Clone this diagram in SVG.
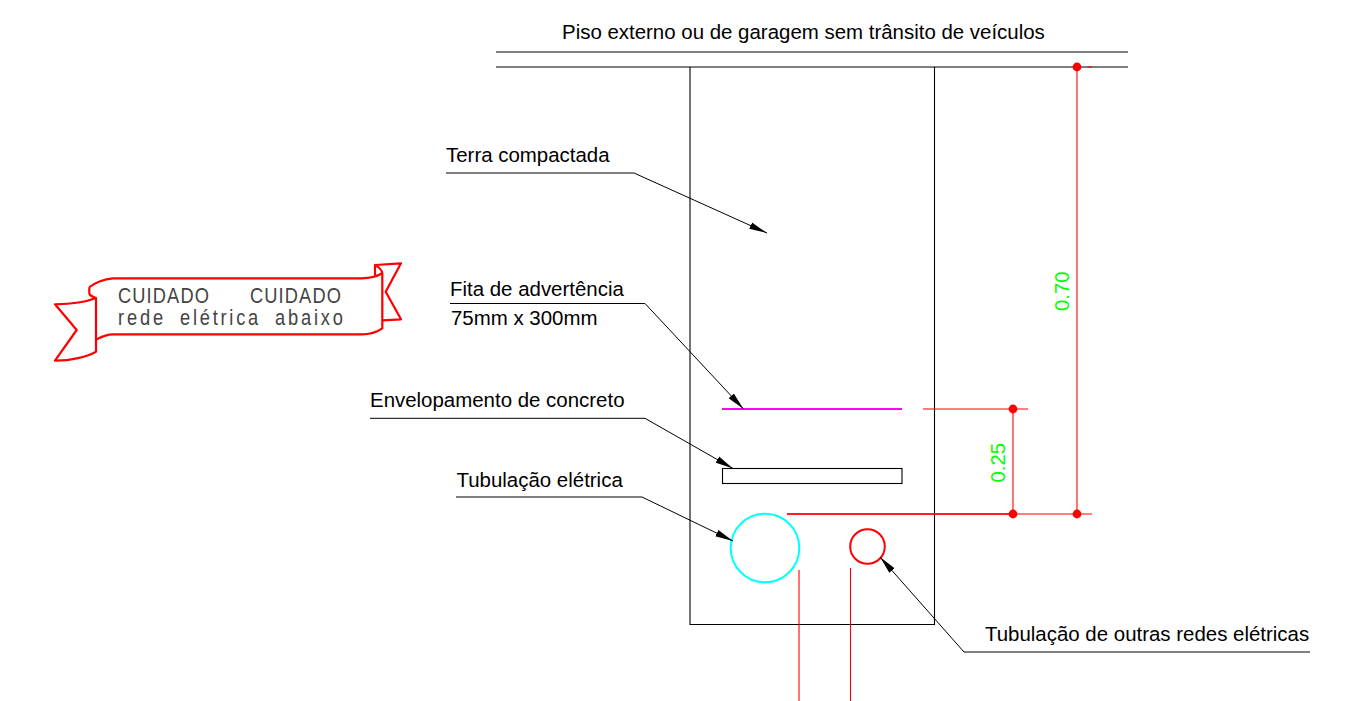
<svg xmlns="http://www.w3.org/2000/svg" width="1349" height="701" viewBox="0 0 1349 701">
<style>
.t{font-family:"Liberation Sans",Arial,sans-serif;font-size:20.45px;fill:#000}
.b{font-family:"Liberation Sans",Arial,sans-serif;font-size:21.5px;fill:#444}
.d{font-family:"Liberation Sans",Arial,sans-serif;font-size:20.4px;fill:#00ff00}
.k{fill:none;stroke:#000;stroke-width:1.1}
.r{fill:none;stroke:#ff0000;stroke-width:1.1}
.rb{fill:none;stroke:#ff0000;stroke-width:2.2;stroke-linejoin:round}
.l{fill:none;stroke:#000;stroke-width:1}
.ah{fill:#000}
.dot{fill:#ff0000}
</style>
<defs>
<marker id="arrow" markerUnits="userSpaceOnUse" markerWidth="18" markerHeight="8" viewBox="0 0 18 8" refX="18" refY="4" orient="auto"><path d="M0 .5L18 4L0 7.500Z" class="ah"/></marker>
</defs>
<rect width="1349" height="701" fill="#fff"/>
<g id="piso">
<path class="k" d="M496 52H1128M496 67H1128"/>
<text class="t" x="562" y="38.500">Piso externo ou de garagem sem trânsito de veículos</text>
</g>
<g id="vala"><path class="k" d="M690 67V624.500H934.500V67"/></g>
<g id="terra"><text class="t" x="446" y="161.500">Terra compactada</text></g>
<g id="fita">
<path d="M722 409H902" fill="none" stroke="#ff00ff" stroke-width="2"/>
<text class="t" x="450" y="295.500">Fita de advertência</text>
<text class="t" x="451" y="325">75mm x 300mm</text>
</g>
<g id="envelopamento">
<rect class="k" x="722.500" y="468.500" width="179.500" height="15"/>
<text class="t" x="370" y="406.500">Envelopamento de concreto</text>
</g>
<g id="tubulacao-eletrica">
<circle cx="765" cy="548" r="34.300" fill="none" stroke="#00ffff" stroke-width="2"/>
<text class="t" x="456.500" y="486.500">Tubulação elétrica</text>
</g>
<g id="outras-redes">
<circle cx="867.500" cy="546.500" r="17.300" fill="none" stroke="#ff0000" stroke-width="2"/>
<text class="t" x="985" y="641">Tubulação de outras redes elétricas</text>
</g>
<g id="faixa">
<path class="rb" d="M89.300 287.300C94 283 104 279 113 278.300H361.700C370 278.300 377 276.500 382.300 273.300V328.300C377 332 370 334.300 361.700 334.300H113C106 334.300 101 337 96.700 339.300"/>
<path class="rb" d="M96 298V351.700C88 356.500 70 361 55 360.700L76.700 330L55 304.300C70 304 86 302 96 298C91 296.500 89.300 294 89.300 293.300V287.300"/>
<path class="rb" d="M382.300 273.300C382 270 378 266.500 375 265V276M375 265L401 263.300L385.700 291.700L401 319.300L382.300 320.300"/>
<text class="b" transform="translate(118 302.700) scale(.85 1)" textLength="107" lengthAdjust="spacing">CUIDADO</text>
<text class="b" transform="translate(250 302.700) scale(.85 1)" textLength="107" lengthAdjust="spacing">CUIDADO</text>
<text class="b" transform="translate(118 325.300) scale(.85 1)" textLength="53" lengthAdjust="spacing">rede</text>
<text class="b" transform="translate(180 325.300) scale(.85 1)" textLength="92" lengthAdjust="spacing">elétrica</text>
<text class="b" transform="translate(275 325.300) scale(.85 1)" textLength="80" lengthAdjust="spacing">abaixo</text>
</g>
<g id="cotas">
<path class="r" d="M1087.500 67H1092M1077 67V514M923 409H1028M1013 409V514M787 514H1092M799 570V701M850.500 568V701"/>
<path d="M787 514H1013" fill="none" stroke="#ff0000" stroke-width="1.500"/>
<circle class="dot" cx="1077" cy="67" r="4.400"/>
<circle class="dot" cx="1013" cy="409" r="4.400"/>
<circle class="dot" cx="1013" cy="514" r="4.400"/>
<circle class="dot" cx="1077" cy="514" r="4.400"/>
<text class="d" transform="translate(1069 311) rotate(-90)">0.70</text>
<text class="d" transform="translate(1005 482.500) rotate(-90)">0.25</text>
</g>
<g id="connectors">
<path class="l" marker-end="url(#arrow)" d="M446 173H634L767 233"/>
<path class="l" marker-end="url(#arrow)" d="M450 303.500H645L743.500 409"/>
<path class="l" marker-end="url(#arrow)" d="M370 418.300H645L733 468.500"/>
<path class="l" marker-end="url(#arrow)" d="M456 497H642L733 541"/>
<path class="l" marker-end="url(#arrow)" d="M1310 652H964L880 557"/>
</g>
</svg>
